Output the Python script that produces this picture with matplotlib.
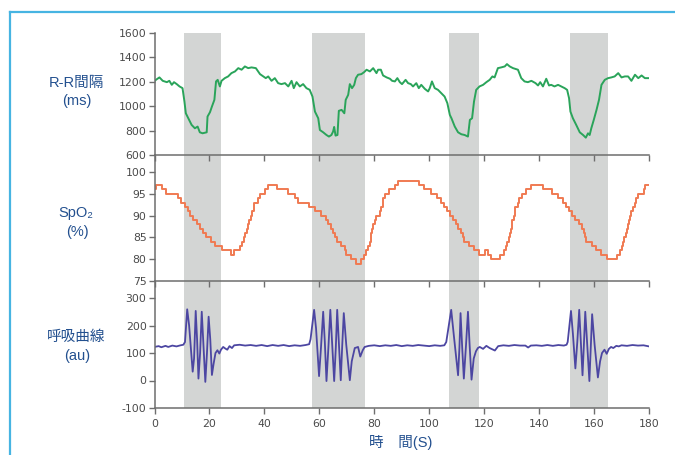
import matplotlib
matplotlib.use("Agg")
import matplotlib.pyplot as plt
from matplotlib.lines import Line2D

plt.rcParams['font.family'] = ['Liberation Sans', 'Noto Sans CJK JP', 'DejaVu Sans']
plt.rcParams['axes.unicode_minus'] = False

# --- shaded apnea intervals (seconds) ---
band_start = [10.9, 57.4, 107.1, 151.4]
band_end = [24.2, 76.8, 118.0, 164.9]

# --- R-R interval (ms) ---
rr_t = [0, 0.5, 1.8, 3.0, 4.5, 5.4, 6.3, 7.1, 8.1, 9.1,
        10.2, 10.9, 11.4, 12.3, 13.5, 14.7, 15.7, 16.5, 17.5, 19.0,
        19.3, 20.2, 20.9, 21.8, 22.4, 23.0, 23.8, 24.4, 25.6, 26.8,
        28.0, 29.3, 30.5, 31.7, 32.9, 34.1, 35.3, 36.9, 38.4, 39.6,
        40.5, 41.4, 42.6, 43.8, 45.0, 46.2, 47.5, 48.7, 49.9, 50.7,
        51.7, 52.9, 54.1, 55.3, 56.5, 57.5, 58.4, 59.6, 60.2, 61.4,
        62.6, 63.5, 64.4, 65.0, 65.4, 65.9, 66.6, 67.1, 68.1, 69.1,
        69.6, 70.5, 71.1, 71.9, 72.7, 73.3, 74.1, 75.3, 76.3, 77.2,
        78.4, 79.6, 80.8, 81.4, 82.4, 83.2, 84.5, 85.7, 86.5, 87.5,
        88.4, 89.3, 90.1, 91.4, 92.3, 93.3, 94.1, 95.3, 96.2, 97.1,
        98.4, 99.6, 100.2, 101.0, 102.0, 103.2, 104.4, 105.6, 106.6, 107.5,
        108.1, 109.3, 110.5, 111.7, 112.9, 114.1, 114.8, 115.6, 116.3, 117.1,
        118.3, 119.6, 120.8, 122.0, 123.0, 123.8, 125.0, 126.2, 127.5, 128.3,
        129.3, 130.5, 132.3, 133.5, 134.7, 135.9, 137.2, 138.7, 139.6, 140.4,
        141.4, 142.6, 143.6, 144.4, 145.6, 146.9, 148.1, 149.3, 150.2, 150.9,
        151.4, 152.3, 153.5, 154.8, 156.0, 157.0, 157.8, 158.4, 159.0, 159.9,
        160.9, 161.8, 162.7, 163.9, 165.1, 166.3, 167.5, 168.8, 170.0, 171.2,
        172.4, 173.6, 174.9, 176.1, 177.3, 178.5, 180.0]
rr_v = [1205, 1216, 1236, 1208, 1197, 1208, 1175, 1197, 1181, 1162,
        1148, 1038, 942, 901, 847, 819, 833, 786, 778, 786,
        915, 951, 997, 1052, 1203, 1216, 1162, 1208, 1230, 1244,
        1271, 1285, 1312, 1299, 1326, 1312, 1318, 1312, 1263, 1244,
        1230, 1244, 1208, 1230, 1189, 1181, 1189, 1162, 1208, 1148,
        1197, 1162, 1181, 1148, 1134, 1079, 956, 901, 805, 786,
        764, 751, 764, 792, 830, 759, 764, 962, 970, 942,
        1052, 1093, 1181, 1148, 1175, 1230, 1258, 1263, 1279, 1299,
        1285, 1312, 1271, 1299, 1299, 1252, 1236, 1225, 1208, 1203,
        1230, 1197, 1181, 1216, 1189, 1181, 1162, 1189, 1148, 1175,
        1142, 1121, 1148, 1203, 1148, 1134, 1107, 1079, 1025, 929,
        901, 833, 786, 770, 764, 751, 888, 901, 1038, 1134,
        1162, 1175, 1197, 1216, 1244, 1236, 1312, 1318, 1326, 1345,
        1326, 1312, 1299, 1230, 1203, 1197, 1208, 1189, 1170, 1197,
        1162, 1225, 1170, 1175, 1162, 1175, 1162, 1148, 1134, 1066,
        956, 901, 847, 786, 764, 742, 778, 764, 819, 888,
        970, 1052, 1175, 1216, 1230, 1236, 1244, 1271, 1236, 1244,
        1244, 1208, 1258, 1230, 1252, 1230, 1230]

# --- SpO2 (%), each value held until the next time stamp ---
spo2_t = [0, 0.6, 2.6, 4.2, 8.5, 9.6, 11.0, 12.2, 13.0, 14.0,
          15.5, 16.4, 17.5, 18.8, 20.5, 22.2, 24.5, 27.8, 28.8, 31.2,
          31.8, 32.4, 33.0, 33.5, 34.0, 34.5, 35.0, 35.6, 36.4, 37.8,
          38.4, 40.2, 41.4, 44.6, 48.6, 51.0, 52.2, 56.2, 58.6, 60.6,
          62.4, 63.3, 64.2, 65.0, 65.8, 66.3, 68.0, 69.2, 69.8, 71.6,
          73.4, 75.2, 76.4, 77.0, 77.7, 78.3, 78.8, 79.3, 79.6, 80.3,
          80.8, 82.2, 82.6, 83.0, 83.3, 83.8, 85.5, 87.6, 88.5, 96.2,
          98.0, 100.6, 102.8, 104.4, 105.4, 106.4, 107.4, 108.6, 109.6, 110.6,
          111.4, 112.2, 112.8, 114.6, 116.4, 118.0, 120.2, 121.4, 122.6, 125.6,
          127.4, 127.8, 128.4, 128.9, 129.4, 129.8, 130.2, 130.8, 131.4, 132.2,
          132.7, 133.6, 135.4, 137.2, 141.4, 144.6, 147.0, 148.8, 149.8, 151.0,
          151.8, 153.0, 154.6, 155.6, 156.2, 156.8, 157.2, 159.4, 160.6, 162.4,
          164.8, 168.4, 169.6, 170.0, 170.6, 171.0, 171.5, 171.9, 172.3, 172.8,
          173.2, 173.6, 174.0, 175.0, 175.4, 176.0, 178.2, 178.6, 180.0]
spo2_v = [96, 97, 96, 95, 94, 93, 92, 91, 90, 89,
          88, 87, 86, 85, 84, 83, 82, 81, 82, 83,
          84, 85, 86, 87, 88, 89, 90, 91, 93, 94,
          95, 96, 97, 96, 95, 94, 93, 92, 91, 90,
          89, 88, 87, 86, 85, 84, 83, 82, 81, 80,
          79, 80, 81, 82, 83, 84, 86, 87, 88, 89,
          90, 91, 92, 93, 94, 95, 96, 97, 98, 97,
          96, 95, 94, 93, 92, 91, 90, 89, 88, 87,
          86, 85, 84, 83, 82, 81, 82, 81, 80, 81,
          82, 83, 84, 85, 86, 87, 89, 90, 92, 93,
          94, 95, 96, 97, 96, 95, 94, 93, 92, 91,
          90, 89, 88, 87, 86, 85, 84, 83, 82, 81,
          80, 81, 82, 83, 84, 85, 86, 87, 88, 89,
          90, 91, 92, 93, 94, 95, 96, 97, 97]

# --- respiration curve (arbitrary units) ---
resp_t = [0, 1.5, 2.5, 4.0, 5.0, 6.5, 8.0, 9.5, 10.5, 11.1,
          11.9, 12.6, 13.9, 14.4, 15.0, 15.5, 16.0, 16.6, 17.2, 17.8,
          18.5, 19.1, 19.7, 20.3, 20.9, 21.5, 22.2, 22.9, 23.6, 24.2,
          25.0, 25.8, 26.5, 27.3, 28.2, 29.0, 31.0, 33.0, 35.0, 37.0,
          39.0, 41.0, 43.0, 45.0, 47.0, 49.0, 51.0, 53.0, 55.0, 56.3,
          56.8, 58.1, 58.8, 59.9, 60.6, 61.4, 62.0, 62.6, 63.3, 64.0,
          64.7, 65.4, 66.0, 66.5, 67.2, 67.8, 68.3, 68.9, 69.8, 71.1,
          71.8, 72.9, 74.1, 74.9, 75.8, 76.5, 78.0, 80.0, 82.0, 84.0,
          86.0, 88.0, 90.0, 92.0, 94.0, 96.0, 98.0, 100.0, 102.0, 104.0,
          105.5, 106.2, 108.0, 109.0, 110.5, 111.0, 111.4, 112.0, 112.6, 113.4,
          114.1, 114.7, 115.4, 116.2, 117.0, 117.7, 118.4, 119.6, 120.8, 122.0,
          123.9, 125.1, 127.0, 129.0, 131.0, 133.0, 135.0, 136.0, 137.0, 139.0,
          141.0, 143.0, 145.0, 147.0, 149.0, 150.0, 150.4, 151.6, 152.3, 153.2,
          153.9, 154.6, 155.2, 155.8, 156.3, 156.8, 157.5, 158.3, 158.8, 159.3,
          160.2, 161.4, 162.2, 162.9, 163.8, 164.6, 165.4, 166.2, 167.0, 168.1,
          169.0, 170.0, 172.0, 174.0, 176.0, 178.0, 180.0]
resp_v = [122, 125, 121, 126, 122, 127, 124, 128, 130, 140,
          259, 200, 32, 80, 253, 150, 7, 100, 250, 130,
          -5, 100, 232, 150, 20, 60, 100, 110, 98, 112,
          122, 116, 112, 125, 118, 128, 130, 127, 129, 126,
          129, 125, 129, 126, 129, 125, 128, 126, 129, 132,
          150, 257, 190, 16, 120, 250, 140, -2, 120, 257,
          130, -2, 120, 257, 120, 1, 120, 245, 130, 1,
          70, 118, 122, 87, 110, 122, 126, 128, 125, 128,
          126, 129, 125, 128, 126, 129, 127, 125, 128, 126,
          128, 140, 257, 160, 19, 120, 245, 120, 7, 130,
          250, 130, 3, 80, 106, 118, 122, 115, 126, 118,
          109, 125, 128, 126, 129, 127, 127, 120, 127, 128,
          126, 129, 126, 129, 127, 130, 140, 253, 170, 44,
          140, 257, 140, 19, 130, 250, 130, -2, 120, 241,
          130, 11, 70, 100, 112, 97, 115, 122, 118, 126,
          124, 128, 126, 129, 127, 128, 124]

x_ticks = [0, 20, 40, 60, 80, 100, 120, 140, 160, 180]

label_color = '#23508f'
tick_color = '#4a4a4a'
axis_color = '#6e6e6e'
band_color = '#d3d5d4'
tick_font = ['DejaVu Sans']

fig = plt.figure(figsize=(6.75, 4.55), dpi=100)

W, H = 675.0, 455.0
left = 154.5 / W
width = (649.0 - 154.5) / W


def add_panel(top_px, bottom_px, z):
    ax = fig.add_axes([left, 1 - bottom_px / H, width, (bottom_px - top_px) / H])
    ax.set_facecolor('none')
    ax.set_zorder(z)
    for s in ('top', 'right'):
        ax.spines[s].set_visible(False)
    for s in ('left', 'bottom'):
        ax.spines[s].set_color(axis_color)
        ax.spines[s].set_linewidth(1.1)
    ax.set_xlim(0, 180)
    ax.set_xticks(x_ticks)
    ax.tick_params(axis='both', direction='out', length=4.5, width=1.0,
                   color=axis_color, labelcolor=tick_color, labelsize=7.8, pad=1.2)
    for s, e in zip(band_start, band_end):
        ax.axvspan(s, e, color=band_color, lw=0, zorder=0)
    return ax


ax1 = add_panel(33.0, 155.0, 3)
ax2 = add_panel(155.0, 281.0, 2)
ax3 = add_panel(281.0, 408.0, 1)

# R-R panel
ax1.plot(rr_t, rr_v, color='#2aa45a', lw=1.4, zorder=2)
ax1.set_ylim(600, 1600)
ax1.set_yticks([600, 800, 1000, 1200, 1400, 1600])
ax1.tick_params(axis='x', labelbottom=False)

# SpO2 panel
ax2.plot(spo2_t, spo2_v, color='#f07a52', lw=1.4, drawstyle='steps-post', zorder=2)
ax2.set_ylim(75, 75 + (281.0 - 155.0) / (109.0 / 25.0))
ax2.set_yticks([75, 80, 85, 90, 95, 100])
ax2.tick_params(axis='x', labelbottom=False)

# respiration panel
ax3.plot(resp_t, resp_v, color='#4c46a2', lw=1.3, zorder=2)
ax3.set_ylim(-100, -100 + (408.0 - 281.0) / (110.0 / 400.0))
ax3.set_yticks([-100, 0, 100, 200, 300])
ax3.set_xticklabels([str(v) for v in x_ticks])
ax3.tick_params(axis='x', pad=3.5)

for ax in (ax1, ax2, ax3):
    for lab in ax.get_xticklabels() + ax.get_yticklabels():
        lab.set_family(tick_font)


def side_label(line1, line2, y1_px, y2_px):
    fig.text(76 / W, 1 - y1_px / H, line1, ha='center', va='center',
             color=label_color, fontsize=10.5)
    fig.text(77 / W, 1 - y2_px / H, line2, ha='center', va='center',
             color=label_color, fontsize=10.5)


side_label('R-R間隔', '(ms)', 83, 101)
side_label('SpO₂', '(%)', 213, 232)
side_label('呼吸曲線', '(au)', 337, 356)

fig.text(401 / W, 1 - 442 / H, '時　間(S)', ha='center', va='center',
         color=label_color, fontsize=10.5)

# outer frame
frame_color = '#46b4e2'
fig.add_artist(Line2D([10 / W, 1.0], [1 - 12 / H, 1 - 12 / H], color=frame_color,
                      lw=1.6, transform=fig.transFigure))
fig.add_artist(Line2D([10 / W, 10 / W], [0.0, 1 - 12 / H], color=frame_color,
                      lw=1.6, transform=fig.transFigure))

fig.savefig('out.png', dpi=100)
